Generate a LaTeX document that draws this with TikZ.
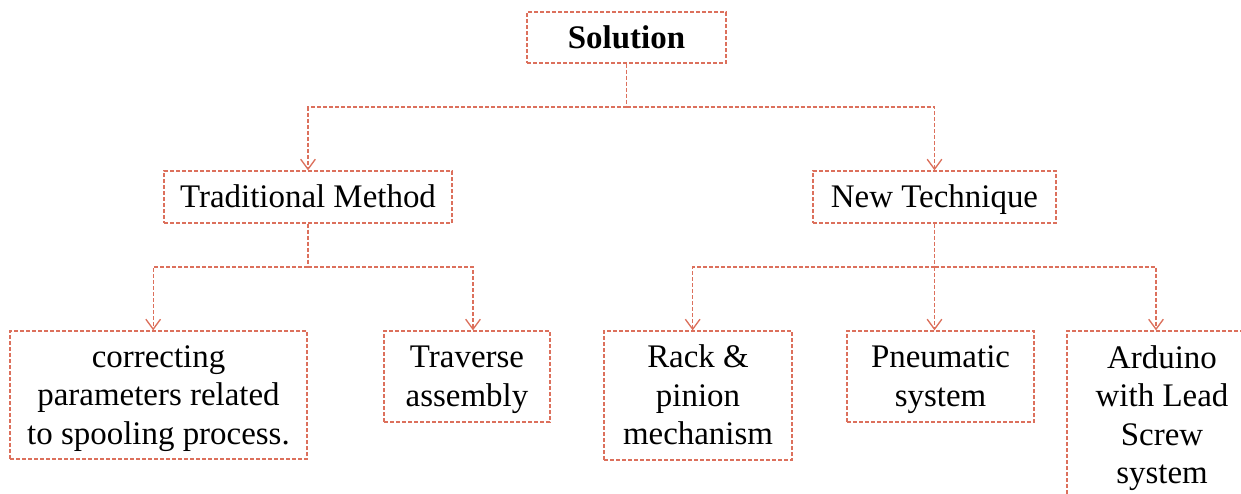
\documentclass[tikz,border=0pt]{standalone}
\usepackage{fontspec}
\setmainfont{Liberation Serif}
\usetikzlibrary{positioning,arrows.meta,calc}
\definecolor{linkred}{RGB}{220,112,92}
\newcommand\lnstrut{\rule[-6.5pt]{0pt}{29pt}}

\begin{document}
\begin{tikzpicture}[x=0.75pt, y=-0.75pt,
 box/.style={draw=linkred, dash pattern=on 3pt off 1.5pt, line width=1pt,
            align=center, inner sep=0pt, font=\fontsize{24.7}{28.9}\selectfont,
            execute at end node=\lnstrut},
 link/.style={draw=linkred, dash pattern=on 3pt off 1.5pt, line width=1pt,
            -{Straight Barb[length=7.5pt,width=11pt,line width=1pt]}},
 stem/.style={draw=linkred, dash pattern=on 3pt off 1.5pt, line width=1pt}]

            \clip (0,0) rectangle (1241,493);

            \node[box, minimum width=149.25pt, minimum height=38.25pt] (sol) at (626.5,37.5) {\lnstrut\textbf{Solution}};
            \node[box, minimum width=216pt, minimum height=39pt] (trad) at (308,197) {\lnstrut Traditional Method};
            \node[box, minimum width=182.25pt, minimum height=39pt] (newt) at (934.5,197) {\lnstrut New Technique};

            \node[box, minimum width=222.75pt, minimum height=96pt] (corr) at (158.5,395) {\lnstrut correcting\\parameters related\\to spooling process.};
            \node[box, minimum width=124.5pt, minimum height=68.25pt] (trav) at (467,376.5) {\lnstrut Traverse\\assembly};
            \node[box, minimum width=141pt, minimum height=96.75pt] (rack) at (698,395.5) {\lnstrut Rack \&\\pinion\\mechanism};
            \node[box, minimum width=140.25pt, minimum height=68.25pt] (pneu) at (940.5,376.5) {\lnstrut Pneumatic\\system};
            \node[box, minimum width=142.5pt, minimum height=126.75pt] (ard) at (1162,415.5) {\lnstrut Arduino\\with Lead\\Screw\\system};

            \coordinate (j0) at (626.5,107);
            \coordinate (j1) at (308,267);
            \coordinate (j2) at (934.5,267);

			\draw[stem](sol) -- (j0);
			\draw[link](j0) -| (trad);
			\draw[link](j0) -| (newt);
			\draw[stem](trad) -- (j1);
			\draw[link](j1) -| ([xshift=-4pt]corr.north);
			\draw[link](j1) -| ([xshift=4.5pt]trav.north);
			\draw[stem](newt) -- (j2);
			\draw[link](j2) -| ([xshift=-4pt]rack.north);
			\draw[link](j2) -- (j2 |- pneu.north);
			\draw[link](j2) -| ([xshift=-4.5pt]ard.north);
\end{tikzpicture}
\end{document}
